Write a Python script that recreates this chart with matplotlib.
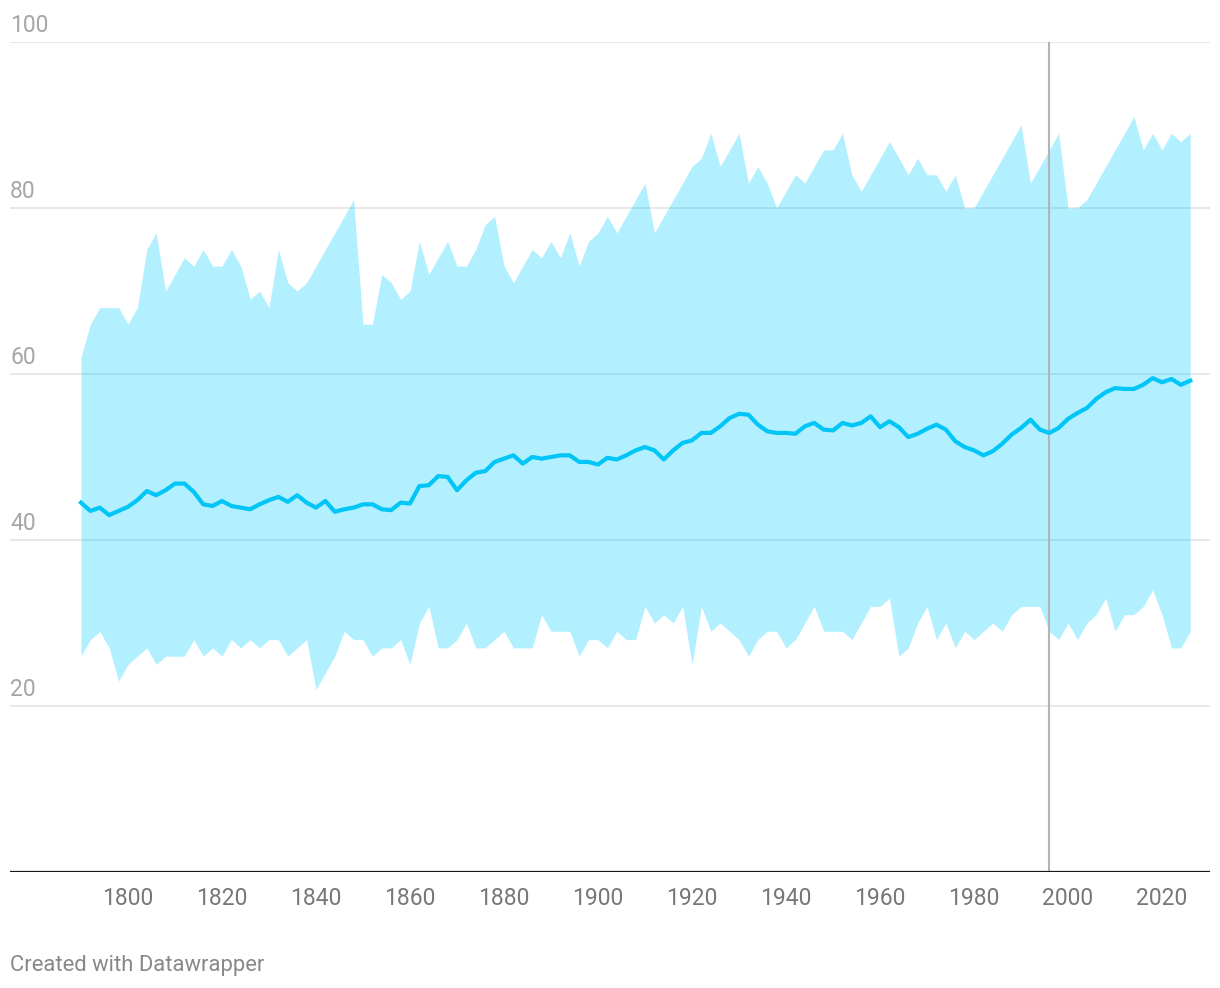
import numpy as np
import matplotlib
matplotlib.use("Agg")
import matplotlib.pyplot as plt
import matplotlib.transforms as mtransforms

plt.rcParams['font.family'] = ['Roboto', 'DejaVu Sans']

# data, one value every two years
years = np.arange(1790, 2027, 2)

upper = [62, 66, 68, 68, 68, 66, 68, 75, 77, 70, 72, 74, 73, 75, 73, 73, 75, 73, 69, 70, 68, 75, 71, 70, 71,
         73, 75, 77, 79, 81, 66, 66, 72, 71, 69, 70, 76, 72, 74, 76,
         73, 73, 75, 78, 79, 73, 71, 73, 75, 74, 76, 74, 77, 73, 76,
         77, 79, 77, 79, 81, 83, 77, 79, 81, 83, 85, 86, 89, 85, 87,
         89, 83, 85, 83, 80, 82, 84, 83, 85, 87, 87, 89, 84, 82, 84,
         86, 88, 86, 84, 86, 84, 84, 82, 84, 80, 80, 82, 84, 86, 88,
         90, 83, 85, 87, 89, 80, 80, 81, 83, 85, 87, 89, 91, 87, 89,
         87, 89, 88, 89]

lower = [26, 28, 29, 27, 23, 25, 26, 27, 25, 26, 26, 26, 28, 26, 27, 26, 28, 27, 28, 27, 28, 28, 26, 27, 28,
         22, 24, 26, 29, 28, 28, 26, 27, 27, 28, 25, 30, 32, 27, 27,
         28, 30, 27, 27, 28, 29, 27, 27, 27, 31, 29, 29, 29, 26, 28,
         28, 27, 29, 28, 28, 32, 30, 31, 30, 32, 25, 32, 29, 30, 29,
         28, 26, 28, 29, 29, 27, 28, 30, 32, 29, 29, 29, 28, 30, 32,
         32, 33, 26, 27, 30, 32, 28, 30, 27, 29, 28, 29, 30, 29, 31,
         32, 32, 32, 29, 28, 30, 28, 30, 31, 33, 29, 31, 31, 32, 34,
         31, 27, 27, 29]

median = [44.5, 43.5, 43.9, 43.0, 43.5, 44.0, 44.8, 45.9, 45.4, 46.0, 46.8, 46.8, 45.8, 44.3, 44.1,
          44.7, 44.1, 43.9, 43.7, 44.3, 44.8, 45.2, 44.6, 45.4, 44.5,
          43.9, 44.7, 43.4, 43.7, 43.9, 44.3, 44.3, 43.7, 43.6, 44.5, 44.4, 46.5, 46.6, 47.7, 47.6,
          46.0, 47.2, 48.1, 48.3, 49.4, 49.8, 50.2, 49.2, 50.0, 49.8, 50.0, 50.2, 50.2, 49.4, 49.4,
          49.1, 49.9, 49.7, 50.2, 50.8, 51.2, 50.8, 49.7, 50.8, 51.7, 52.0, 52.9, 52.9, 53.7, 54.7,
          55.2, 55.1, 53.9, 53.1, 52.9, 52.9, 52.8, 53.7, 54.1, 53.3, 53.2, 54.1, 53.8, 54.1, 54.9,
          53.6, 54.3, 53.6, 52.4, 52.8, 53.4, 53.9, 53.3, 51.9, 51.2, 50.8, 50.2, 50.7, 51.6, 52.7,
          53.5, 54.5, 53.3, 52.9, 53.5, 54.6, 55.3, 55.9, 57.0, 57.8, 58.3, 58.2, 58.2, 58.7, 59.5,
          59.0, 59.4, 58.7, 59.2]

marker_year = 1996
yticks = [20, 40, 60, 80, 100]
xticks = [1800, 1820, 1840, 1860, 1880, 1900, 1920, 1940, 1960, 1980, 2000, 2020]

W, H = 1220, 988
fig = plt.figure(figsize=(W / 100, H / 100), dpi=100)
ax = fig.add_axes([10 / W, 116 / H, 1200 / W, 830 / H])

ax.set_xlim(1774.9, 2030.2)
ax.set_ylim(0, 100)

# grid lines
for v in yticks:
    ax.axhline(v, color='#e1e1e1', lw=1.1, zorder=0)

ax.fill_between(years, lower, upper, color='#00ccff', alpha=0.3, lw=0, zorder=1)
ax.plot(years, median, color='#00c6f8', lw=3, solid_joinstyle='round', zorder=3)
ax.axvline(marker_year, color='#b4b4b4', lw=1.5, zorder=2)
ax.axhline(0, color='#1a1a1a', lw=1.6, zorder=4)

for s in ax.spines.values():
    s.set_visible(False)
ax.set_yticks([])
ax.set_xticks(xticks)
ax.set_xticklabels([str(t) for t in xticks], fontsize=16.5, color='#777777')
ax.tick_params(axis='x', length=0, pad=11)

# y labels sit above their grid lines at the left edge
trans = mtransforms.blended_transform_factory(fig.transFigure, ax.transData)
for v in yticks:
    ax.text(10 / W, v + 1.2, str(v), transform=trans, ha='left', va='baseline',
            fontsize=16.5, color='#a6a6a6')

fig.text(10 / W, 1 - 965 / H, 'Created with Datawrapper', ha='left', va='center',
         fontsize=15.8, color='#888888')

fig.savefig('out.png', dpi=100)
